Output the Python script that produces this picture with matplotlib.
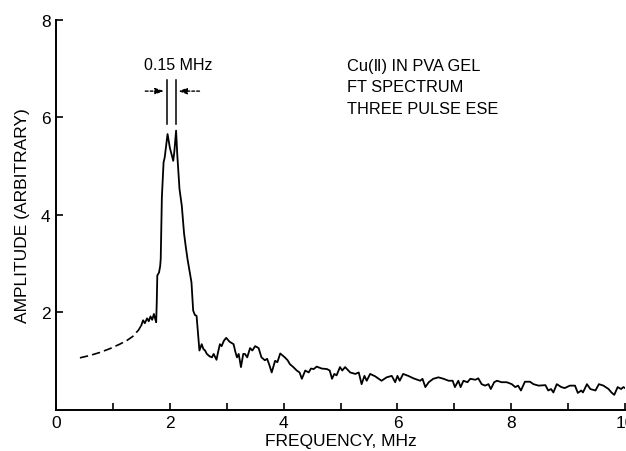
import matplotlib
matplotlib.use('Agg')
import matplotlib.pyplot as plt
import numpy as np

# extrapolated low-frequency part (dashed)
freq_dash = [0.42, 0.60, 0.77, 0.95, 1.12, 1.25, 1.35, 1.45, 1.50]
amp_dash = [1.07, 1.12, 1.18, 1.26, 1.35, 1.43, 1.51, 1.64, 1.74]

# measured FT spectrum
freq = [1.50, 1.53, 1.56, 1.60, 1.63, 1.66, 1.69, 1.72, 1.74, 1.76, 1.77, 1.78,
        1.81, 1.83, 1.84, 1.86, 1.89, 1.91, 1.96, 2.00, 2.06, 2.08, 2.11, 2.13,
        2.17, 2.21, 2.25, 2.28, 2.31, 2.35, 2.38, 2.41, 2.44, 2.47, 2.50, 2.52,
        2.56, 2.59, 2.62, 2.65, 2.70, 2.74, 2.77, 2.82, 2.85, 2.88, 2.91, 2.95,
        2.99, 3.05, 3.12, 3.15, 3.18, 3.21, 3.25, 3.29, 3.32, 3.36, 3.41, 3.45,
        3.50, 3.56, 3.61, 3.67, 3.71, 3.75, 3.79, 3.85, 3.89, 3.94, 4.02, 4.07,
        4.11, 4.17, 4.23, 4.28, 4.32, 4.38, 4.44, 4.48, 4.53, 4.58, 4.67, 4.76,
        4.81, 4.85, 4.89, 4.93, 4.99, 5.03, 5.08, 5.17, 5.26, 5.32, 5.37, 5.42,
        5.46, 5.52, 5.61, 5.72, 5.81, 5.90, 5.96, 6.00, 6.04, 6.10, 6.19, 6.28,
        6.40, 6.44, 6.49, 6.55, 6.63, 6.72, 6.81, 6.90, 6.97, 7.01, 7.07, 7.11,
        7.16, 7.23, 7.28, 7.37, 7.42, 7.48, 7.54, 7.60, 7.64, 7.70, 7.75, 7.83,
        7.92, 8.01, 8.07, 8.12, 8.17, 8.24, 8.33, 8.39, 8.48, 8.60, 8.65, 8.70,
        8.74, 8.80, 8.88, 8.94, 9.03, 9.12, 9.17, 9.23, 9.26, 9.33, 9.39, 9.48,
        9.54, 9.62, 9.71, 9.76, 9.81, 9.87, 9.93, 9.97, 10.0]
amp = [1.74, 1.84, 1.78, 1.88, 1.82, 1.92, 1.85, 1.97, 1.88, 1.80, 2.20, 2.76,
       2.82, 2.95, 3.10, 4.36, 5.08, 5.18, 5.66, 5.38, 5.11, 5.31, 5.73, 5.25,
       4.53, 4.19, 3.62, 3.35, 3.10, 2.82, 2.62, 2.04, 1.95, 1.93, 1.52, 1.22,
       1.35, 1.25, 1.22, 1.15, 1.10, 1.08, 1.15, 1.03, 1.20, 1.35, 1.31, 1.42,
       1.48, 1.40, 1.35, 1.20, 1.08, 1.15, 0.88, 1.15, 1.15, 1.08, 1.27, 1.22,
       1.31, 1.27, 1.08, 1.02, 1.05, 0.92, 0.77, 1.01, 0.98, 1.16, 1.08, 1.02,
       0.94, 0.88, 0.81, 0.77, 0.64, 0.81, 0.77, 0.85, 0.84, 0.89, 0.85, 0.84,
       0.81, 0.64, 0.74, 0.71, 0.88, 0.81, 0.88, 0.77, 0.74, 0.77, 0.53, 0.70,
       0.60, 0.74, 0.69, 0.60, 0.67, 0.70, 0.57, 0.70, 0.60, 0.74, 0.70, 0.65,
       0.60, 0.64, 0.47, 0.57, 0.64, 0.67, 0.64, 0.60, 0.60, 0.47, 0.60, 0.47,
       0.60, 0.57, 0.64, 0.62, 0.65, 0.53, 0.50, 0.53, 0.43, 0.57, 0.60, 0.57,
       0.57, 0.53, 0.47, 0.50, 0.40, 0.58, 0.58, 0.53, 0.50, 0.51, 0.40, 0.43,
       0.36, 0.53, 0.47, 0.45, 0.50, 0.50, 0.35, 0.40, 0.36, 0.53, 0.43, 0.40,
       0.53, 0.50, 0.43, 0.36, 0.31, 0.47, 0.43, 0.47, 0.45]

x_ticks = [0, 2, 4, 6, 8, 10]
y_ticks = [2, 4, 6, 8]
info_lines = ['Cu(\u2161) IN PVA GEL', 'FT SPECTRUM', 'THREE PULSE ESE']

plt.rcParams['font.family'] = ['Liberation Sans', 'DejaVu Sans']

fig = plt.figure(figsize=(6.26, 4.52), dpi=100)
ax = fig.add_axes([0.0895, 0.0907, 0.909, 0.863])

ax.plot(freq_dash, amp_dash, color='black', lw=1.2, ls=(0, (5, 2.5)))
ax.plot(freq, amp, color='black', lw=1.3)

# linewidth marker: two bars and arrows
ax.plot([1.945, 1.945], [5.87, 6.77], color='black', lw=1.1)
ax.plot([2.10, 2.10], [5.87, 6.77], color='black', lw=1.1)
ax.annotate('', xy=(1.945, 6.54), xytext=(1.52, 6.54),
            arrowprops=dict(arrowstyle='-|>,head_length=0.5,head_width=0.18',
                            color='black', lw=1.0, ls=(0, (2, 1.5))))
ax.annotate('', xy=(2.10, 6.54), xytext=(2.57, 6.54),
            arrowprops=dict(arrowstyle='-|>,head_length=0.5,head_width=0.18',
                            color='black', lw=1.0, ls=(0, (2, 1.5))))
ax.text(2.14, 7.08, '0.15 MHz', ha='center', va='center', fontsize=11.5)

for i, line in enumerate(info_lines):
    ax.text(5.11, 7.07 - i * 0.445, line, ha='left', va='center', fontsize=11.8)

ax.set_xlim(0, 10)
ax.set_ylim(0, 8)
ax.set_xticks(x_ticks)
ax.set_xticks([1, 3, 5, 7, 9], minor=True)
ax.set_yticks(y_ticks)
ax.tick_params(axis='both', which='both', direction='in', length=5, width=1.2, labelsize=12.5)
ax.tick_params(axis='y', pad=4)

ax.spines['right'].set_visible(False)
ax.spines['top'].set_visible(False)
ax.spines['left'].set_linewidth(1.4)
ax.spines['bottom'].set_linewidth(1.4)

ax.set_xlabel('FREQUENCY, MHz', fontsize=12.5, labelpad=2)
ax.set_ylabel('AMPLITUDE (ARBITRARY)', fontsize=12.5, labelpad=8)

plt.savefig('out.png', dpi=100)
